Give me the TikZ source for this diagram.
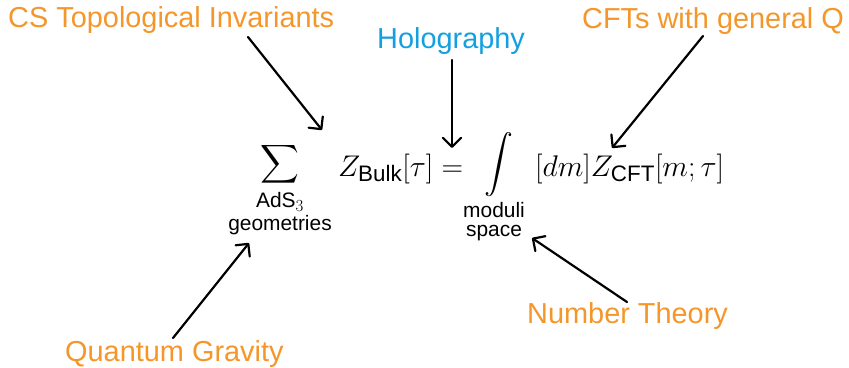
\RequirePackage{fix-cm}
\documentclass[tikz,border=0pt]{standalone}
\usepackage{fontspec}
\setsansfont{Liberation Sans}
\usetikzlibrary{arrows.meta}
\DeclareMathSizes{30}{30}{22.5}{17}
\DeclareMathSizes{21}{21}{17}{12}
\definecolor{lblorange}{RGB}{244,150,42}
\definecolor{lblblue}{RGB}{20,160,222}
\tikzset{
  lbl/.style={font=\sffamily\fontsize{29}{33}\selectfont, text=lblorange, inner sep=0pt, anchor=base west},
  lblb/.style={lbl, text=lblblue},
  eq/.style={font=\fontsize{30}{36}\selectfont, inner sep=0pt},
  bigop/.style={font=\normalsize, inner sep=0pt},
  lim/.style={inner sep=0pt, anchor=north, align=center},
  arr/.style={line width=2.2bp, line cap=round, -{Straight Barb[length=9bp,width=18bp,line cap=round,line join=round]}}
}
\begin{document}
\begin{tikzpicture}[x=1bp,y=-1bp]
\useasboundingbox (0,0) rectangle (849,367);
% labels
\node[lbl] (cs) at (8,27) {CS Topological Invariants};
\node[lblb] (holo) at (377,48) {Holography};
\node[lbl] (cft) at (582,28) {CFTs with general Q};
\node[lbl] (qg) at (65,361) {Quantum Gravity};
\node[lbl] (nt) at (527,323) {Number Theory};
% equation
\node[bigop] (sum) at (280,164) {\scalebox{2.7}{$\displaystyle\sum$}};
\node[lim, font=\sffamily\fontsize{21}{23}\selectfont] (geo) at (280,192) {AdS$_3$\\geometries};
\node[eq, anchor=base west] (zb) at (338,176) {$Z_{\mathsf{Bulk}}[\tau] =$};
\node[bigop] (int) at (499,165) {\scalebox{2.9}{$\displaystyle\int$}};
\node[lim, font=\sffamily\fontsize{21}{19}\selectfont] (mod) at (494,202) {moduli\\space};
\node[eq, anchor=base west] (zc) at (535,176) {$[dm]Z_{\mathsf{CFT}}[m;\tau]$};
% arrow end points
\coordinate (csA) at (248,37);  \coordinate (csB) at (322,130);
\coordinate (hoA) at (452,60);  \coordinate (hoB) at (452,148);
\coordinate (cfA) at (703,36);  \coordinate (cfB) at (612,148);
\coordinate (qgA) at (173,338); \coordinate (qgB) at (249,243);
\coordinate (ntA) at (627,302); \coordinate (ntB) at (532,238);
\draw[arr] (csA) -- (csB);
\draw[arr] (hoA) -- (hoB);
\draw[arr] (cfA) -- (cfB);
\draw[arr] (qgA) -- (qgB);
\draw[arr] (ntA) -- (ntB);
\end{tikzpicture}
\end{document}
